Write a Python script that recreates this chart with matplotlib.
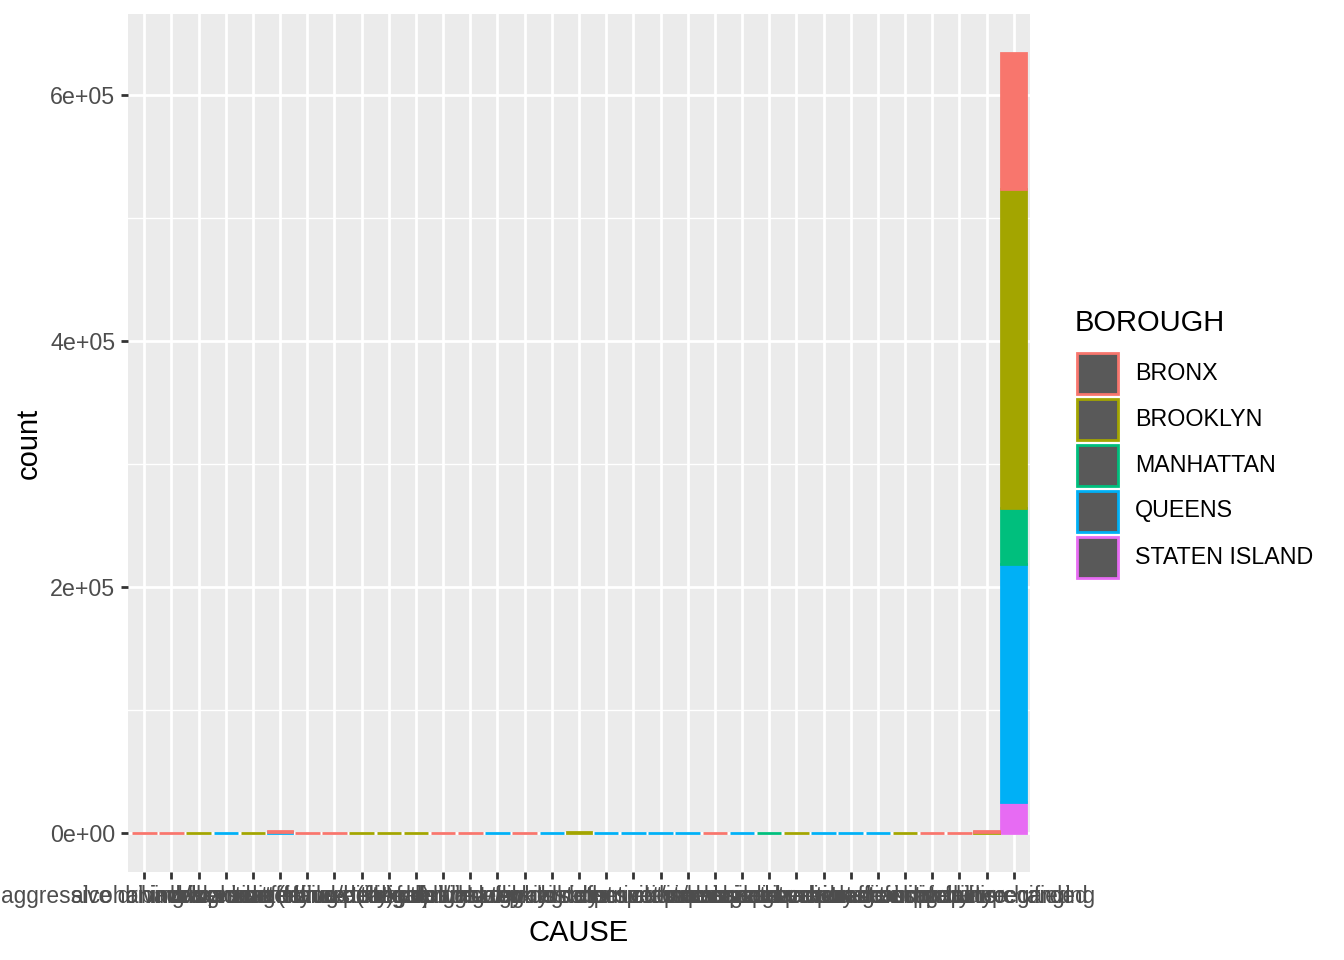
import numpy as np
import matplotlib
matplotlib.use("Agg")
import matplotlib.pyplot as plt
from matplotlib.patches import Rectangle
from matplotlib.ticker import FixedLocator

plt.rcParams['font.family'] = ['Liberation Sans', 'DejaVu Sans']

# data
causes = [
    "aggressive driving/road rage", "alcohol involvement", "animals action",
    "backing unsafely", "brakes defective", "cell phone (hand-held)",
    "driver inattention/distraction", "driver inexperience", "drugs (illegal)",
    "failure to keep right", "failure to yield right-of-way", "fatigued/drowsy",
    "fell asleep", "following too closely", "glare", "headlights defective",
    "illness", "lane marking improper/inadequate", "lost consciousness",
    "obstruction/debris", "other electronic device", "other vehicular",
    "outside car distraction", "oversized vehicle", "passenger distraction",
    "passing or lane usage improper", "pavement defective", "pavement slippery",
    "physical disability", "steering failure", "traffic control disregarded",
    "unsafe lane changing", "unspecified",
]
boroughs = ["BRONX", "BROOKLYN", "MANHATTAN", "QUEENS", "STATEN ISLAND"]
colors = ["#F8766D", "#A3A500", "#00BF7D", "#00B0F6", "#E76BF3"]

bronx = [300, 300, 0, 0, 0, 1100, 300, 300, 0, 0, 0, 300, 300, 0, 300, 0, 0,
         0, 0, 0, 0, 300, 0, 0, 0, 0, 0, 0, 0, 300, 300, 800, 111000]
brooklyn = [0, 0, 300, 0, 300, 0, 0, 0, 300, 300, 300, 0, 0, 0, 0, 0, 900,
            0, 0, 0, 0, 0, 0, 0, 300, 0, 0, 0, 300, 0, 0, 600, 259000]
manhattan = [0, 0, 0, 0, 0, 0, 0, 0, 0, 0, 0, 0, 0, 0, 0, 0, 0,
             0, 0, 0, 0, 0, 0, 300, 0, 0, 0, 0, 0, 0, 0, 0, 46000]
queens = [0, 0, 0, 300, 0, 900, 0, 0, 0, 0, 0, 0, 0, 300, 0, 300, 0,
          300, 300, 300, 300, 0, 300, 0, 0, 300, 300, 300, 0, 0, 0, 0, 193000]
staten = [0] * 32 + [25500]

counts = {"BRONX": bronx, "BROOKLYN": brooklyn, "MANHATTAN": manhattan,
          "QUEENS": queens, "STATEN ISLAND": staten}

W, H = 1344, 960
DPI = 186
fig = plt.figure(figsize=(W / DPI, H / DPI), dpi=DPI)
ax = fig.add_axes([128 / W, 88 / H, (1030 - 128) / W, (872 - 14) / H])
ax.set_facecolor("#EBEBEB")
for s in ax.spines.values():
    s.set_visible(False)

x = np.arange(1, len(causes) + 1)
lw = 1.07
# stack: last level at bottom, first level on top (ggplot order)
bottom = np.zeros(len(causes))
for b, c in reversed(list(zip(boroughs, colors))):
    vals = np.array(counts[b], dtype=float)
    m = vals > 0
    ax.bar(x[m], vals[m], width=0.9, bottom=bottom[m], color=c,
           edgecolor=c, linewidth=lw, zorder=3)
    bottom += vals

ax.set_xlim(0.4, len(causes) + 0.6)
total = bottom.max()
ax.set_ylim(-0.05 * total, total * 1.05)

yt = [0, 2e5, 4e5, 6e5]
ax.set_yticks(yt)
ax.set_yticklabels([f"{v:.0e}" for v in yt])
ax.yaxis.set_minor_locator(FixedLocator([1e5, 3e5, 5e5]))
ax.set_xticks(x)
ax.set_xticklabels(causes)

ax.grid(True, which="major", color="white", linewidth=lw, zorder=0)
ax.grid(True, which="minor", axis="y", color="white", linewidth=lw / 2, zorder=0)
ax.set_axisbelow(True)
ax.tick_params(which="major", length=2.75, width=lw, color="#333333",
               labelcolor="#4D4D4D", pad=2.2)
ax.tick_params(axis="y", labelsize=9)
ax.tick_params(axis="x", labelsize=8.8)
ax.tick_params(which="minor", length=0)

ax.set_xlabel("CAUSE", fontsize=11.3, color="black", labelpad=4.5)
ax.set_ylabel("count", fontsize=11.3, color="black", labelpad=3)

# legend drawn by hand (ggplot style: grey fill, coloured outline)
def fx(px):
    return px / W

def fy(py):
    return 1 - py / H

fig.text(fx(1075), fy(323), "BOROUGH", fontsize=11.3, color="black",
         ha="left", va="center")
for i, (b, c) in enumerate(zip(boroughs, colors)):
    cy = 373 + i * 46
    fig.add_artist(Rectangle((fx(1076.5), fy(cy + 20.5)), fx(41), 41 / H,
                             transform=fig.transFigure, facecolor="#595959",
                             edgecolor=c, linewidth=lw))
    fig.text(fx(1135), fy(cy), b, fontsize=9, color="black",
             ha="left", va="center")

fig.savefig("out.png", dpi=DPI)
